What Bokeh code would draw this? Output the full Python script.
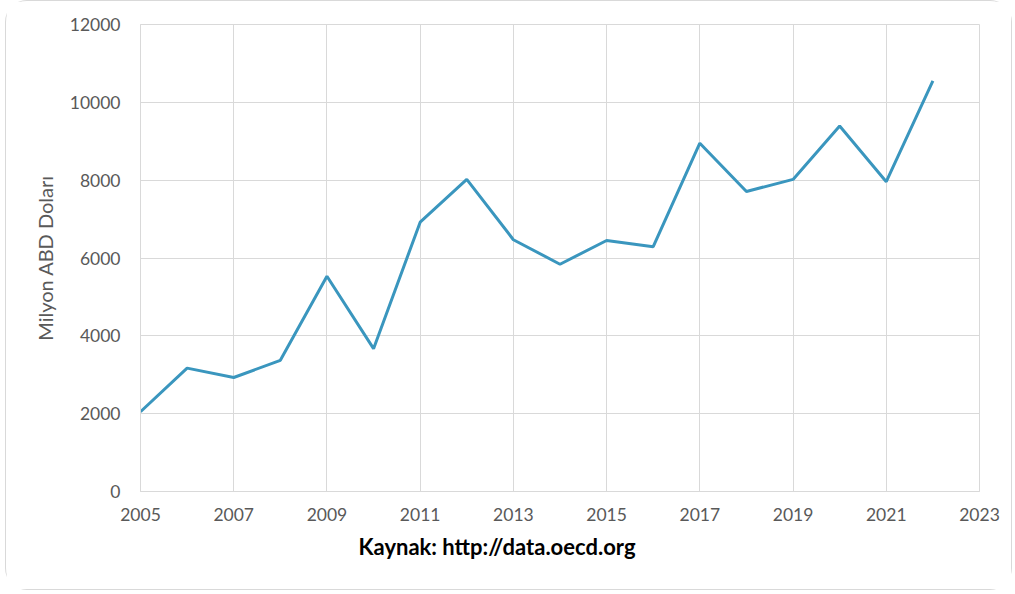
from bokeh.plotting import figure
from bokeh.models import Range1d, FixedTicker, Title
from bokeh.embed import file_html
from bokeh.resources import INLINE

years = [2005, 2006, 2007, 2008, 2009, 2010, 2011, 2012, 2013, 2014,
         2015, 2016, 2017, 2018, 2019, 2020, 2021, 2022]
values = [2050, 3170, 2930, 3370, 5530, 3670, 6920, 8020, 6470, 5840,
          6450, 6290, 8950, 7710, 8020, 9390, 7960, 10550]
x_ticks = [2005, 2007, 2009, 2011, 2013, 2015, 2017, 2019, 2021, 2023]
y_ticks = [0, 2000, 4000, 6000, 8000, 10000, 12000]
y_title = "Milyon ABD Doları"
source_text = "Kaynak: http://data.oecd.org"

FONT = "Lato"
GRID = "#d9d9d9"
TXT = "#595959"

p = figure(width=1007, height=590, output_backend="svg", toolbar_location=None,
           x_range=Range1d(2005, 2023), y_range=Range1d(0, 12000),
           min_border_left=134, min_border_right=34, min_border_top=23,
           min_border_bottom=100,
           styles={"border": "1.5px solid #d9d9d9", "border-radius": "22px",
                   "margin-left": "5px"})

p.line(years, values, line_color="#3A96BE", line_width=3)

p.xaxis.ticker = FixedTicker(ticks=x_ticks)
p.yaxis.ticker = FixedTicker(ticks=y_ticks)
for ax in (p.xaxis, p.yaxis):
    ax.axis_line_color = GRID
    ax.major_tick_line_color = None
    ax.minor_tick_line_color = None
    ax.major_label_text_font = FONT
    ax.major_label_text_font_size = "17.5px"
    ax.major_label_text_color = TXT
p.xaxis.major_label_standoff = 10
p.yaxis.major_label_standoff = 14

p.yaxis.axis_label = y_title
p.yaxis.axis_label_text_font = FONT
p.yaxis.axis_label_text_font_size = "20px"
p.yaxis.axis_label_text_font_style = "normal"
p.yaxis.axis_label_text_color = TXT
p.yaxis.axis_label_standoff = 10

p.xgrid.grid_line_color = GRID
p.ygrid.grid_line_color = GRID
p.xgrid.ticker = FixedTicker(ticks=x_ticks)
p.ygrid.ticker = FixedTicker(ticks=y_ticks)
p.outline_line_color = GRID

p.add_layout(Title(text=source_text, align="left", offset=218, standoff=15,
                   text_font=FONT, text_font_size="22px", text_font_style="bold",
                   text_color="#000000"), "below")

open("out.html", "w").write(file_html(p, INLINE))
